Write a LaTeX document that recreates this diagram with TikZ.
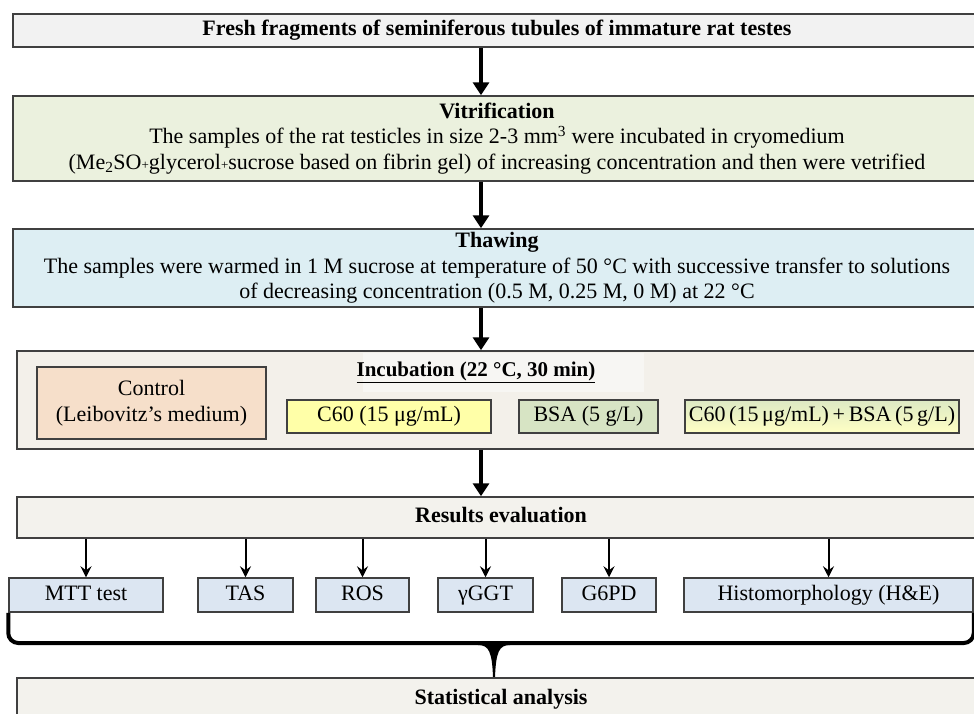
\documentclass[tikz,border=0pt]{standalone}
\usepackage{fontspec}
\setmainfont{Liberation Serif}
\usetikzlibrary{arrows.meta}

\definecolor{framegray}{HTML}{404040}
\definecolor{freshgray}{HTML}{F2F2F2}
\definecolor{vitrigreen}{HTML}{EBF1DE}
\definecolor{thawblue}{HTML}{DDEEF3}
\definecolor{incubbeige}{HTML}{F3F0EA}
\definecolor{titlewhite}{HTML}{F7F6F3}
\definecolor{controlpeach}{HTML}{F6DFCA}
\definecolor{dosayellow}{HTML}{FFFFA8}
\definecolor{bsagreen}{HTML}{D7E4C4}
\definecolor{mixtop}{HTML}{DDE9C4}
\definecolor{mixbottom}{HTML}{FFFFC4}
\definecolor{resultsbeige}{HTML}{F3F2ED}
\definecolor{testblue}{HTML}{DCE6F2}

\begin{document}
\begin{tikzpicture}[x=1pt,y=-1pt,
  box/.style={draw=framegray, line width=1.5pt, inner sep=0pt, align=center, font=\fontsize{22}{25.5}\selectfont},
  oneline/.style={text height=15pt, text depth=5pt},
  dosebox/.style={box, oneline, minimum height=33pt},
  testbox/.style={box, oneline, fill=testblue, minimum height=34pt},
  bigarrow/.style={line width=4pt, -{Triangle[width=16pt,length=13pt]}},
  smallarrow/.style={line width=2pt, -{Stealth[width=11pt,length=11pt,inset=4pt]}},
  brace/.style={line width=4pt}]

	\useasboundingbox (0,0) rectangle (974,713);

	% main steps
	\node (fresh) [box, oneline, fill=freshgray, minimum width=968pt, minimum height=33pt] at (497,30.5) {\textbf{Fresh fragments of seminiferous tubules of immature rat testes}};
	\node (vitri) [box, fill=vitrigreen, minimum width=968pt, minimum height=85pt] at (497,138.5) {\textbf{Vitrification}\\The samples of the rat testicles in size 2-3 mm\textsuperscript{3} were incubated in cryomedium\\(Me\textsubscript{2}SO{\fontsize{13}{13}\selectfont+}glycerol{\fontsize{13}{13}\selectfont+}sucrose based on fibrin gel) of increasing concentration and then were vetrified};
	\node (thaw) [box, fill=thawblue, minimum width=968pt, minimum height=78pt] at (497,268) {\textbf{Thawing}\\The samples were warmed in 1 M sucrose at temperature of 50 °C with successive transfer to solutions\\of decreasing concentration (0.5 M, 0.25 M, 0 M) at 22 °C};

	% incubation groups
	\node (incub) [box, fill=incubbeige, minimum width=968pt, minimum height=98pt] at (501,400) {};
	\fill[titlewhite] (363,353) rectangle (644,392);
	\node (incubtitle) at (476,372) [font=\fontsize{21}{24}\selectfont] {\textbf{\underline{Incubation (22 °C, 30 min)}}};
	\node (control) [box, fill=controlpeach, minimum width=229pt, minimum height=72pt] at (151.5,403) {Control\\(Leibovitz's medium)};
	\node (c60) [dosebox, fill=dosayellow, minimum width=204pt] at (389,416.5) {C60 (15 μg/mL)};
	\node (bsa) [dosebox, fill=bsagreen, minimum width=139pt] at (588.5,416.5) {BSA (5 g/L)};
	\node (mix) [dosebox, top color=mixtop, bottom color=mixbottom, minimum width=274pt] at (822,416.5) {C60\,(15\,μg/mL)\,+\,BSA\,(5\,g/L)};

	\node (results) [box, oneline, fill=resultsbeige, minimum width=968pt, minimum height=41pt] at (501,517.5) {\textbf{Results evaluation}};

	\coordinate (axis) at (481,0);
	\draw[bigarrow] (fresh.south -| axis) -- (vitri.north -| axis);
	\draw[bigarrow] (vitri.south -| axis) -- (thaw.north -| axis);
	\draw[bigarrow] (thaw.south -| axis) -- (incub.north -| axis);
	\draw[bigarrow] (incub.south -| axis) -- (results.north -| axis);

	% tests
	\foreach \name/\cx/\w/\txt in {mtt/86/154/MTT test, tas/245.5/95/TAS, ros/362.5/93/ROS, ggt/485.5/95/γGGT, gpd/609/94/G6PD, histo/828.5/289/Histomorphology (H\&E)}
	{
		\node (\name) [testbox, minimum width=\w pt] at (\cx,595) {\txt};
		\draw[smallarrow] (results.south -| \name.north) -- (\name.north);
	}

	% brace
	\coordinate (tip) at (494,677);
	\draw[brace, rounded corners=10pt] (mtt.south west) -- (mtt.south west |- 0,643) -- (histo.south east |- 0,643) -- (histo.south east);
	\fill (478,645) .. controls (489,645) and (492,652) .. (493,677) -- (495,677) .. controls (496,652) and (499,645) .. (510,645) -- cycle;

	\node (stats) [box, fill=resultsbeige, minimum width=968pt, anchor=north, inner ysep=13.5pt, text height=13pt, text depth=30pt] at (501,677) {\textbf{Statistical analysis}};
\end{tikzpicture}
\end{document}
